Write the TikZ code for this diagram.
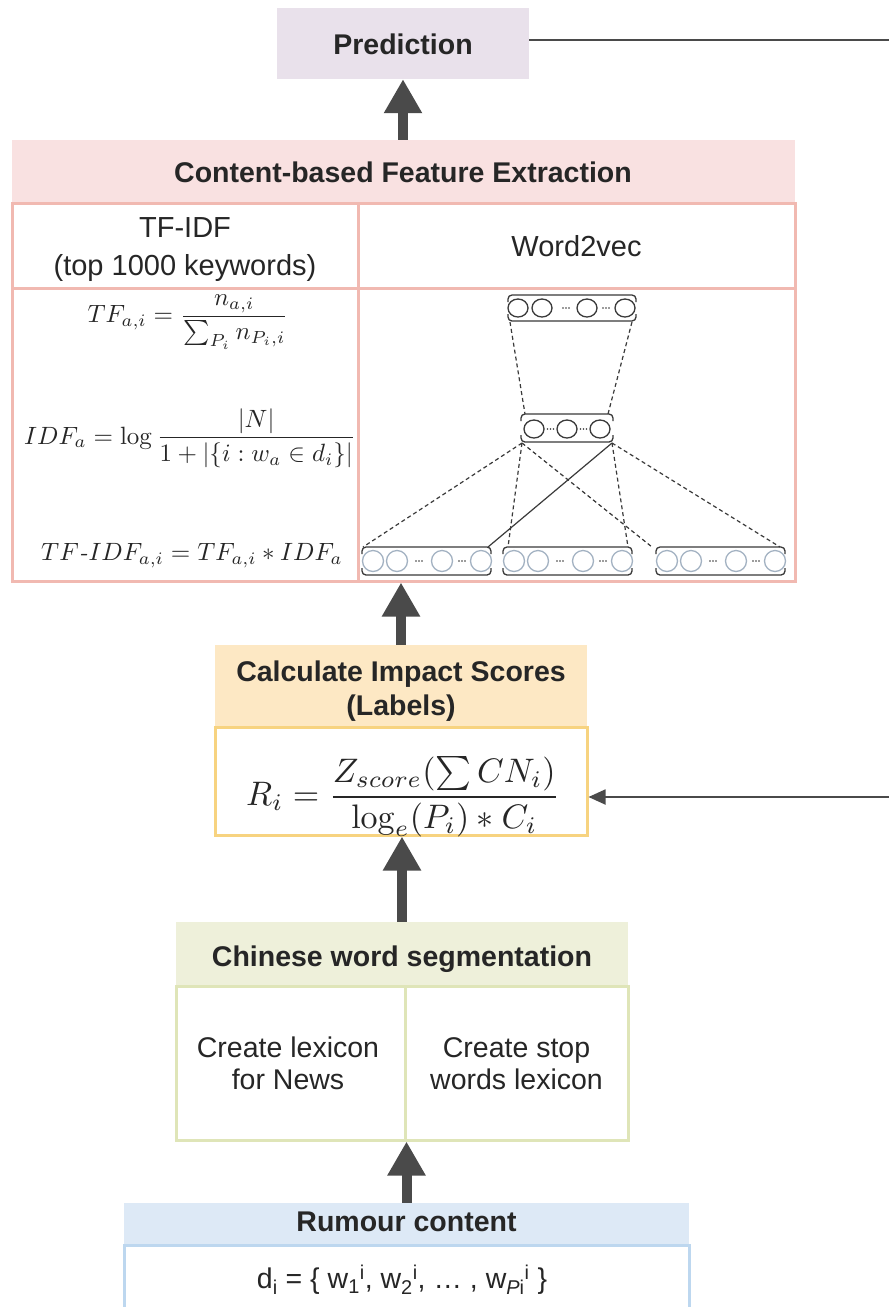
\documentclass[tikz,border=0pt]{standalone}
\usepackage[no-math]{fontspec}
\setmainfont{Liberation Sans}
\usetikzlibrary{arrows.meta}
\definecolor{txt}{HTML}{262626}
\definecolor{predfill}{HTML}{E9E1EB}
\definecolor{pinkfill}{HTML}{F9E1E1}
\definecolor{pinkline}{HTML}{F1B9B1}
\definecolor{orfill}{HTML}{FDE8C4}
\definecolor{orline}{HTML}{F7D380}
\definecolor{olfill}{HTML}{EEF0DA}
\definecolor{olline}{HTML}{DFE5B8}
\definecolor{blfill}{HTML}{DDE9F6}
\definecolor{blline}{HTML}{BDD7EF}
\definecolor{arrowgray}{HTML}{4A4A4A}
\definecolor{netdark}{HTML}{3A3A3A}
\definecolor{netlight}{HTML}{A3B2C2}
\begin{document}
\begin{tikzpicture}[x=1pt,y=-1pt,
  every node/.style={text=txt, inner sep=0pt, align=center},
  bodyfont/.style={font=\fontsize{29}{38}\selectfont},
  boldfont/.style={font=\fontsize{28.5}{34}\selectfont\bfseries},
  mathnode/.style={font=\normalsize, scale=2.5},
  hdrbox/.style={fill=#1, draw=none},
  cellbox/.style={draw=#1, line width=3pt, fill=white},
  bigarrow/.style={draw=arrowgray, line width=10pt, -{Triangle[width=36pt,length=34pt,fill=arrowgray]}},
  thinline/.style={draw=arrowgray, line width=1.8pt},
  thinarrow/.style={thinline, -{Triangle[width=15pt,length=17pt,fill=arrowgray]}},
  netline/.style={draw=netdark, line width=1.2pt},
  netdash/.style={netline, dash pattern=on 4pt off 3pt},
  bracket/.style={draw=netdark, line width=1.3pt, rounded corners=4pt},
  ndark/.style={draw=netdark, line width=1.3pt},
  nlight/.style={draw=netlight, line width=1.3pt}
]
\useasboundingbox (0,0) rectangle (889,1307);
\clip (0,0) rectangle (889,1307);

% ---------- Prediction ----------
\node[hdrbox=predfill, minimum width=252pt, minimum height=71pt] (pred) at (403,43.5) {};
\node[boldfont] (predT) at (403,44) {Prediction};

% ---------- Content-based Feature Extraction ----------
\node[hdrbox=pinkfill, minimum width=783pt, minimum height=63pt] (chdr) at (403.5,171.5) {};
\node[boldfont] (chdrT) at (403,172) {Content-based Feature Extraction};
\node[cellbox=pinkline, minimum width=346pt, minimum height=85pt] (tfhead) at (185,245.5) {};
\node[bodyfont] (tfheadT) at (185,249.5) {TF-IDF\\(top 1000 keywords)};
\node[cellbox=pinkline, minimum width=437pt, minimum height=85pt] (wvhead) at (576.5,245.5) {};
\node[bodyfont] (wvheadT) at (576.5,246) {Word2vec};
\node[cellbox=pinkline, minimum width=346pt, minimum height=293pt] (tfbody) at (185,434.5) {};
\node[cellbox=pinkline, minimum width=437pt, minimum height=293pt] (wvbody) at (576.5,434.5) {};

\node[mathnode] (ftf) at (188,322) {$\displaystyle TF_{a,i}=\frac{n_{a,i}}{\sum_{P_i} n_{P_i,i}}$};
\node[mathnode] (fidf) at (190,438) {$\displaystyle IDF_a=\log\frac{|N|}{1+|\{i:w_a\in d_i\}|}$};
\node[mathnode] (ftfidf) at (192,556) {$TF\mathit{\mathchar"702D}IDF_{a,i}=TF_{a,i}*IDF_a$};

% ---------- Word2vec network ----------
% top layer
\draw[bracket] (508,302) -- (508,295) -- (636,295) -- (636,302);
\draw[bracket] (508,314) -- (508,321) -- (636,321) -- (636,314);
\foreach \cx in {518,542,587,625} \draw[ndark] (\cx,308) ellipse (10pt and 9pt);
\foreach \cx in {566,606} \foreach \d in {-3,0,3} \fill[netdark] (\cx+\d,308) circle (0.9pt);
% middle layer
\draw[bracket] (521,421) -- (521,414) -- (613,414) -- (613,421);
\draw[bracket] (521,435) -- (521,442) -- (613,442) -- (613,435);
\foreach \cx in {534,567,600} \draw[ndark] (\cx,429) ellipse (10pt and 9pt);
\foreach \cx in {550.5,583.5} \foreach \d in {-3,0,3} \fill[netdark] (\cx+\d,429) circle (0.9pt);
% bottom layers
\foreach \xo in {362,503,656}{
  \draw[bracket] (\xo,554) -- (\xo,547) -- (\xo+129,547) -- (\xo+129,554);
  \draw[bracket] (\xo,568) -- (\xo,575) -- (\xo+129,575) -- (\xo+129,568);
  \foreach \cx in {11,35,80,119} \draw[nlight] (\xo+\cx,561) circle (10.5pt);
  \foreach \cx in {57,100} \foreach \d in {-3,0,3} \fill[netdark] (\xo+\cx+\d,561) circle (0.9pt);
}
\coordinate (topL) at (510,322);
\coordinate (topR) at (632,322);
\coordinate (midTL) at (525,414);
\coordinate (midTR) at (608,414);
\coordinate (midBL) at (522,443);
\coordinate (midBR) at (612,443);
\coordinate (lTL) at (363,547);
\coordinate (lTR) at (488,547);
\coordinate (mTL) at (508,547);
\coordinate (mTR) at (628,547);
\coordinate (rTL) at (652,547);
\coordinate (rTR) at (780,547);
\draw[netdash] (topL) -- (midTL);
\draw[netdash] (topR) -- (midTR);
\draw[netdash] (midBL) -- (lTL);
\draw[netdash] (midBL) -- (mTL);
\draw[netdash] (midBL) -- (rTL);
\draw[netline] (midBR) -- (lTR);
\draw[netdash] (midBR) -- (mTR);
\draw[netdash] (midBR) -- (rTR);

% ---------- Impact scores ----------
\node[hdrbox=orfill, minimum width=372pt, minimum height=82pt] (ihdr) at (401,686) {};
\node[boldfont] (ihdrT) at (401,691.5) {Calculate Impact Scores\\(Labels)};
\node[cellbox=orline, minimum width=372pt, minimum height=108pt] (ri) at (401,781) {};
\node[font=\normalsize, scale=3.4] (rif) at (403,797) {$\displaystyle R_i=\frac{Z_{score}(\sum CN_i)}{\log_e(P_i)*C_i}$};

% ---------- Chinese word segmentation ----------
\node[hdrbox=olfill, minimum width=452pt, minimum height=64pt] (chin) at (402,954) {};
\node[boldfont] (chinT) at (402,959) {Chinese word segmentation};
\node[cellbox=olline, minimum width=229pt, minimum height=154pt] (lexL) at (290.5,1063) {};
\node[font=\fontsize{28.5}{32}\selectfont] (lexLT) at (288,1063.5) {Create lexicon\\for News};
\node[cellbox=olline, minimum width=223pt, minimum height=154pt] (lexR) at (516.5,1063) {};
\node[font=\fontsize{28.5}{32}\selectfont] (lexRT) at (516.5,1063.5) {Create stop\\words lexicon};

% ---------- Rumour content ----------
\node[hdrbox=blfill, minimum width=565pt, minimum height=42pt] (rhdr) at (406.5,1224) {};
\node[boldfont] (rhdrT) at (406.5,1222) {Rumour content};
\node[cellbox=blline, minimum width=565pt, minimum height=80pt] (rbody) at (406.5,1285) {};
\node[font=\fontsize{28.5}{34}\selectfont] (rtext) at (402,1280) {d\textsubscript{i} = \{ w\textsubscript{1}\textsuperscript{i}, w\textsubscript{2}\textsuperscript{i}, \ldots{} , w\textsubscript{\textit{P}i}\textsuperscript{i} \}};

% ---------- connectors ----------
\coordinate (edgeTop) at (889,40);
\coordinate (edgeRi) at (889,797);
\draw[bigarrow] (pred.south |- chdr.north) -- (pred.south);
\draw[bigarrow] (ihdr.north) -- (ihdr.north |- tfbody.south);
\draw[bigarrow] (chin.north) -- (chin.north |- ri.south);
\draw[bigarrow] (rhdr.north -| lexL.south east) -- (lexL.south east);
\draw[thinline] (pred.east |- edgeTop) -- (edgeTop);
\draw[thinarrow] (edgeRi) -- (edgeRi -| ri.east);
\end{tikzpicture}
\end{document}
